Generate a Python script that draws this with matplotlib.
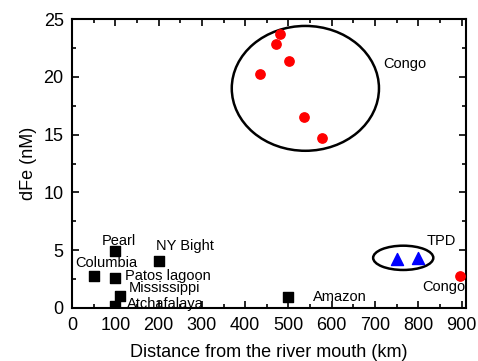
import matplotlib
matplotlib.use("Agg")
import matplotlib.pyplot as plt
from matplotlib.patches import Ellipse
from matplotlib.ticker import MultipleLocator

plt.rcParams['font.family'] = ['Liberation Sans', 'DejaVu Sans']

# Shelf rivers (black squares)
river_names = ["Pearl", "Columbia", "Patos lagoon", "Mississippi", "Atchafalaya", "NY Bight", "Amazon"]
river_dist = [100, 50, 100, 110, 100, 200, 500]
river_dfe = [4.95, 2.8, 2.6, 1.0, 0.2, 4.1, 0.93]

# Congo plume (red circles)
congo_dist = [480, 472, 502, 434, 535, 578, 895]
congo_dfe = [23.7, 22.8, 21.4, 20.2, 16.5, 14.7, 2.8]

# Transpolar drift (blue triangles)
tpd_dist = [750, 800]
tpd_dfe = [4.27, 4.35]

# label positions (x, y) in data units
label_text = ["Pearl", "Columbia", "Patos lagoon", "Mississippi", "Atchafalaya",
              "NY Bight", "Amazon", "TPD", "Congo", "Congo"]
label_x = [68, 7, 122, 132, 127, 194, 557, 820, 809, 719]
label_y = [5.8, 3.9, 2.8, 1.7, 0.35, 5.36, 0.95, 5.8, 1.82, 21.1]

fig = plt.figure(figsize=(4.78, 3.61), dpi=100)
ax = fig.add_axes([72 / 478, 53 / 361, 394 / 478, 289 / 361])

ax.scatter(river_dist, river_dfe, marker='s', s=55, color='black', zorder=3)
ax.scatter(congo_dist, congo_dfe, marker='o', s=45, color='red', zorder=3)
ax.scatter(tpd_dist, tpd_dfe, marker='^', s=75, color='blue', zorder=3)

ax.add_patch(Ellipse((539, 19.0), 340, 10.8, fill=False, lw=1.8, color='black'))
ax.add_patch(Ellipse((765, 4.34), 139, 2.1, fill=False, lw=1.8, color='black'))

for t, x, y in zip(label_text, label_x, label_y):
    ax.text(x, y, t, ha='left', va='center', fontsize=10.5)

ax.set_xlim(0, 910)
ax.set_ylim(0, 25)
ax.xaxis.set_major_locator(MultipleLocator(100))
ax.xaxis.set_minor_locator(MultipleLocator(50))
ax.yaxis.set_major_locator(MultipleLocator(5))
ax.yaxis.set_minor_locator(MultipleLocator(2.5))
ax.tick_params(which='both', direction='in', top=True, right=True, labelsize=13, width=1.2)
ax.tick_params(which='major', length=5)
ax.tick_params(which='minor', length=3)
ax.tick_params(axis='x', pad=6.5)
ax.tick_params(axis='y', pad=6)
for s in ax.spines.values():
    s.set_linewidth(1.5)

ax.set_xlabel("Distance from the river mouth (km)", fontsize=13, labelpad=7)
ax.set_ylabel("dFe (nM)", fontsize=13, labelpad=5)

fig.savefig("out.png", dpi=100)
